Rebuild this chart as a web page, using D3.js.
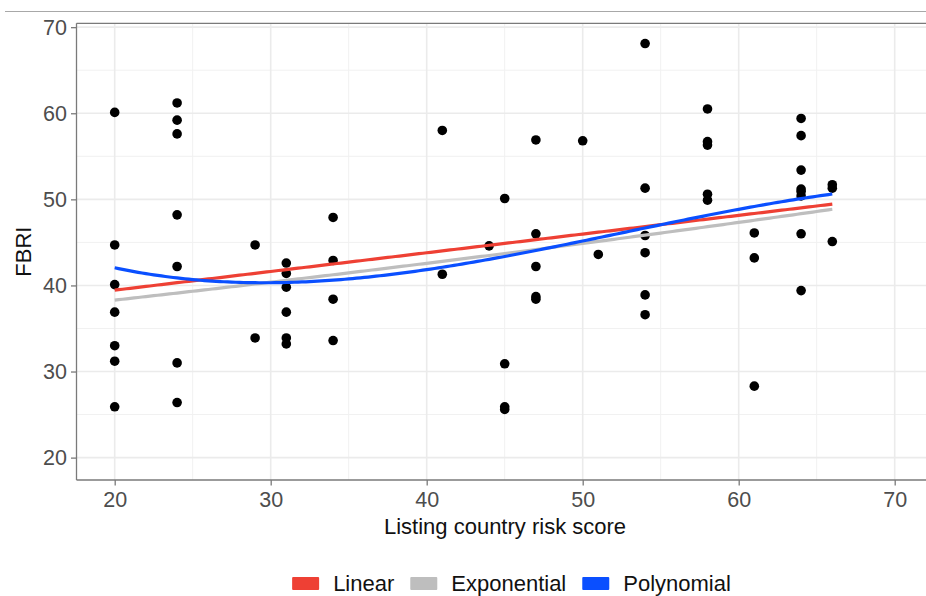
<!DOCTYPE html>
<html>
<head>
<meta charset="utf-8">
<script src="https://cdn.jsdelivr.net/npm/d3@7"></script>
<style>
  html, body { margin: 0; padding: 0; background: #fff; }
  svg { display: block; font-family: "Liberation Sans", Arial, Helvetica, sans-serif; }
</style>
</head>
<body>
<svg id="chart" width="926" height="596"></svg>
<script>
// Listing country risk score (x) and FBRI (y) for each observation
const riskScore = [
  20, 20, 20, 20, 20, 20, 20,
  24, 24, 24, 24, 24, 24, 24,
  29, 29,
  31, 31, 31, 31, 31, 31,
  34, 34, 34, 34,
  41, 41,
  44,
  45, 45, 45, 45,
  47, 47, 47, 47, 47,
  50,
  51,
  54, 54, 54, 54, 54, 54,
  58, 58, 58, 58, 58,
  61, 61, 61,
  64, 64, 64, 64, 64, 64, 64, 64,
  66, 66, 66
];
const fbri = [
  60.1, 44.7, 40.1, 36.9, 33.0, 31.2, 25.9,
  61.2, 59.2, 57.6, 48.2, 42.2, 31.0, 26.4,
  44.7, 33.9,
  42.6, 41.4, 39.8, 36.9, 33.9, 33.2,
  47.9, 42.9, 38.4, 33.6,
  58.0, 41.3,
  44.6,
  50.1, 30.9, 25.9, 25.6,
  56.9, 46.0, 42.2, 38.7, 38.4,
  56.8,
  43.6,
  68.1, 51.3, 45.8, 43.8, 38.9, 36.6,
  60.5, 56.7, 56.3, 50.6, 49.9,
  46.1, 43.2, 28.3,
  59.4, 57.4, 53.4, 51.2, 50.9, 50.4, 46.0, 39.4,
  51.7, 51.3, 45.1
];

const xTicks = [20, 30, 40, 50, 60, 70];
const yTicks = [20, 30, 40, 50, 60, 70];
const xMinor = [25, 35, 45, 55, 65];
const yMinor = [25, 35, 45, 55, 65];

const fitNames = ["Linear", "Exponential", "Polynomial"];
const fitColors = ["#EE4034", "#BEBEBE", "#0A4FFF"];

// ---- least-squares helpers ----
function solve(A, b) {
  const n = b.length;
  const M = A.map((row, i) => row.concat([b[i]]));
  for (let c = 0; c < n; c++) {
    let p = c;
    for (let r = c + 1; r < n; r++) if (Math.abs(M[r][c]) > Math.abs(M[p][c])) p = r;
    [M[c], M[p]] = [M[p], M[c]];
    for (let r = 0; r < n; r++) {
      if (r === c) continue;
      const f = M[r][c] / M[c][c];
      for (let k = c; k <= n; k++) M[r][k] -= f * M[c][k];
    }
  }
  return M.map((row, i) => row[n] / row[i]);
}
function polyFit(xs, ys, deg) {
  const xm = d3.mean(xs), xsd = d3.deviation(xs);
  const z = xs.map(v => (v - xm) / xsd);
  const m = deg + 1;
  const A = Array.from({length: m}, () => new Array(m).fill(0));
  const b = new Array(m).fill(0);
  z.forEach((zi, i) => {
    for (let r = 0; r < m; r++) {
      b[r] += Math.pow(zi, r) * ys[i];
      for (let c = 0; c < m; c++) A[r][c] += Math.pow(zi, r + c);
    }
  });
  const coef = solve(A, b);
  return x => { const t = (x - xm) / xsd; return coef.reduce((s, c, k) => s + c * Math.pow(t, k), 0); };
}

const linearFit = polyFit(riskScore, fbri, 1);
const logFit = polyFit(riskScore, fbri.map(Math.log), 1);
const expFit = x => Math.exp(logFit(x));
const cubicFit = polyFit(riskScore, fbri, 3);
const fits = [linearFit, expFit, cubicFit];

// ---- layout ----
const svg = d3.select("#chart");
const panel = {left: 76.5, top: 23.3, bottom: 480};
const x = d3.scaleLinear().domain([17.5, 72.5]).range([75.7, 933.7]);
const y = d3.scaleLinear().domain([17.4, 70.45]).range([panel.bottom, panel.top]);

// thin rule across the top of the figure
svg.append("line")
  .attr("x1", 5).attr("x2", 926).attr("y1", 11.5).attr("y2", 11.5)
  .attr("stroke", "#a8a8a8").attr("stroke-width", 1.2);

const grid = svg.append("g");
grid.selectAll(".xminor").data(xMinor).join("line")
  .attr("x1", d => x(d)).attr("x2", d => x(d))
  .attr("y1", panel.top).attr("y2", panel.bottom)
  .attr("stroke", "#f1f1f1").attr("stroke-width", 1);
grid.selectAll(".yminor").data(yMinor).join("line")
  .attr("y1", d => y(d)).attr("y2", d => y(d))
  .attr("x1", panel.left).attr("x2", 926)
  .attr("stroke", "#f1f1f1").attr("stroke-width", 1);
grid.selectAll(".xmajor").data(xTicks).join("line")
  .attr("x1", d => x(d)).attr("x2", d => x(d))
  .attr("y1", panel.top).attr("y2", panel.bottom)
  .attr("stroke", "#ebebeb").attr("stroke-width", 1.6);
grid.selectAll(".ymajor").data(yTicks).join("line")
  .attr("y1", d => y(d)).attr("y2", d => y(d))
  .attr("x1", panel.left).attr("x2", 926)
  .attr("stroke", "#ebebeb").attr("stroke-width", 1.6);

// points
svg.append("g").selectAll("circle").data(riskScore).join("circle")
  .attr("cx", d => x(d))
  .attr("cy", (d, i) => y(fbri[i]))
  .attr("r", 4.8)
  .attr("fill", "#000");

// fitted curves over the observed score range
const xExtent = d3.extent(riskScore);
const xs = d3.range(xExtent[0], xExtent[1] + 0.001, 0.25);
const line = d3.line().x(d => x(d[0])).y(d => y(d[1]));
[1, 0, 2].forEach(k => {
  svg.append("path")
    .datum(xs.map(v => [v, fits[k](v)]))
    .attr("d", line)
    .attr("fill", "none")
    .attr("stroke", fitColors[k])
    .attr("stroke-width", 3.2);
});

// axes
const axisColor = "#7a7a7a";
const xAxis = svg.append("g").attr("transform", `translate(0,${panel.bottom})`)
  .call(d3.axisBottom(x).tickValues(xTicks).tickSize(5.5).tickPadding(4));
const yAxis = svg.append("g").attr("transform", `translate(${panel.left},0)`)
  .call(d3.axisLeft(y).tickValues(yTicks).tickSize(5.5).tickPadding(4));
[xAxis, yAxis].forEach(g => {
  g.select(".domain").remove();
  g.selectAll(".tick line").attr("stroke", axisColor).attr("stroke-width", 1.3);
  g.selectAll(".tick text").attr("fill", "#4d4d4d")
    .style("font-size", "21.5px").style("font-family", "inherit");
});
xAxis.selectAll(".tick text").attr("dy", "0.8em");
svg.append("line").attr("x1", panel.left).attr("x2", 926)
  .attr("y1", panel.bottom).attr("y2", panel.bottom)
  .attr("stroke", axisColor).attr("stroke-width", 1.3);
svg.append("line").attr("x1", panel.left).attr("x2", panel.left)
  .attr("y1", panel.top).attr("y2", panel.bottom)
  .attr("stroke", axisColor).attr("stroke-width", 1.3);
svg.append("line").attr("x1", panel.left).attr("x2", 926)
  .attr("y1", panel.top).attr("y2", panel.top)
  .attr("stroke", axisColor).attr("stroke-width", 1.3);

// axis titles
svg.append("text")
  .attr("x", 505).attr("y", 534)
  .attr("text-anchor", "middle")
  .attr("fill", "#111")
  .style("font-size", "22px")
  .text("Listing country risk score");
svg.append("text")
  .attr("transform", `translate(31,${(panel.top + panel.bottom) / 2}) rotate(-90)`)
  .attr("text-anchor", "middle")
  .attr("fill", "#111")
  .style("font-size", "22px")
  .text("FBRI");

// legend
const legend = svg.append("g");
let cursor = 0;
fitNames.forEach((name, i) => {
  const g = legend.append("g");
  g.append("rect").attr("x", 0).attr("y", 577).attr("width", 27).attr("height", 13)
    .attr("rx", 1).attr("fill", fitColors[i]);
  const t = g.append("text").attr("x", 41).attr("y", 590.5)
    .attr("fill", "#111").style("font-size", "22px").text(name);
  const w = 41 + t.node().getComputedTextLength();
  g.attr("transform", `translate(${cursor},0)`);
  cursor += w + 16;
});
const totalW = cursor - 16;
legend.attr("transform", `translate(${511.5 - totalW / 2},0)`);
</script>
</body>
</html>
